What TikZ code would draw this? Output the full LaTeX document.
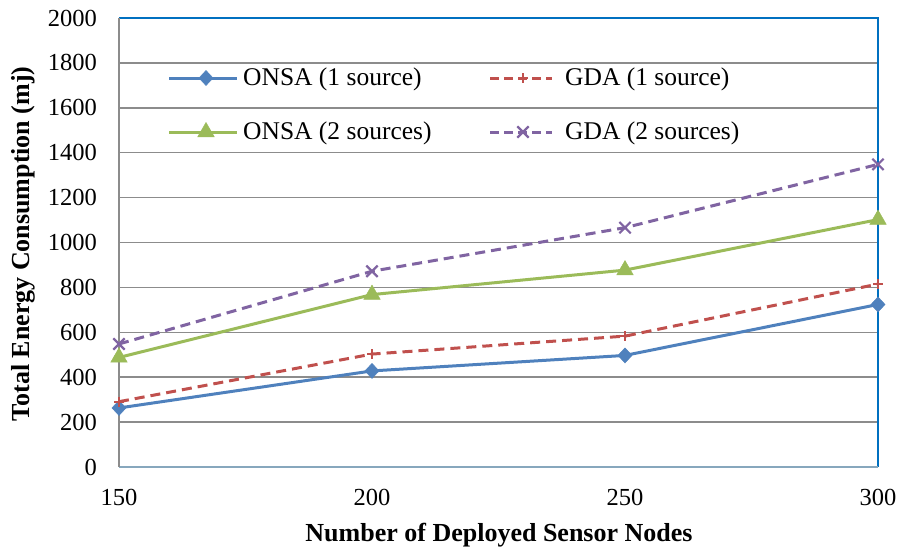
\documentclass[tikz,border=0pt]{standalone}
\usepackage{fontspec}
\setmainfont{Liberation Serif}
\usetikzlibrary{plotmarks}
\definecolor{cblue}{HTML}{4F81BD}
\definecolor{cred}{HTML}{C0504D}
\definecolor{cgreen}{HTML}{9BBB59}
\definecolor{cpurple}{HTML}{8064A2}
\definecolor{frameblue}{HTML}{0070C0}
\definecolor{gridgray}{HTML}{8C8C8C}
\tikzset{
  ticklbl/.style={inner sep=0pt, font=\fontsize{24.5}{28}\selectfont},
  leglbl/.style={inner sep=0pt, anchor=west, font=\fontsize{25.5}{28}\selectfont},
  axlbl/.style={inner sep=0pt, font=\fontsize{26}{30}\selectfont\bfseries},
  gridline/.style={draw=gridgray, line width=1.6pt},
  onsaone/.style={draw=cblue, line width=3pt, mark=diamond*, mark size=7.5pt,
     mark options={fill=cblue, draw=cblue, line width=0.5pt, xscale=1.25, solid}},
  gdaone/.style={draw=cred, line width=3pt, dash pattern=on 10pt off 6pt, mark=+, mark size=5pt,
     mark options={draw=cred, line width=2.2pt, solid}},
  onsatwo/.style={draw=cgreen, line width=3pt, mark=triangle*, mark size=9.5pt,
     mark options={fill=cgreen, draw=cgreen, line width=0.5pt, solid}},
  gdatwo/.style={draw=cpurple, line width=3pt, dash pattern=on 10pt off 6pt, mark=x, mark size=8pt,
     mark options={draw=cpurple, line width=2.2pt, solid}},
}
\begin{document}
\begin{tikzpicture}[x=1pt,y=-1pt]
\useasboundingbox (0,0) rectangle (900,554);
% gridlines
\foreach \v in {200,400,...,1800} {
  \draw[gridline] (119,{467-\v*0.2245}) -- (878,{467-\v*0.2245});
}
% frame
\draw[frameblue, line width=2.8pt] (119,18) -- (878,18) -- (878,467);
\draw[draw=gridgray!60!frameblue!70, line width=2.5pt] (119,467) -- (878,467);
\draw[gridgray, line width=2.5pt] (119,18) -- (119,467);
% y tick labels
\foreach \v in {0,200,...,2000} {
  \node[ticklbl, anchor=east] (yt\v) at (97,{467-\v*0.2245}) {\v};
}
% x tick labels
\foreach \v/\px in {150/119,200/372,250/625,300/878} {
  \node[ticklbl] (xt\v) at (\px,497) {\v};
}
% axis labels
\node[axlbl, rotate=90] (ylab) at (23,244) {Total Energy Consumption (mj)};
\node[axlbl] (xlab) at (499,535) {Number of Deployed Sensor Nodes};
% data
\begin{scope}[shift={(119,467)}, x=5.06pt, y=0.2245pt]
  \draw[onsaone] plot coordinates {(0,263) (50,428) (100,497) (150,724)};
  \draw[gdaone] plot coordinates {(0,291) (50,503) (100,583) (150,815)};
  \draw[onsatwo] plot coordinates {(0,488) (50,768) (100,877) (150,1102)};
  \draw[gdatwo] plot coordinates {(0,548) (50,872) (100,1066) (150,1348)};
\end{scope}
% legend
\draw[onsaone, mark indices={2}] plot coordinates {(169,78) (206,78) (237,78)};
\node[leglbl] (l1) at (243,79) {ONSA (1 source)};
\draw[onsatwo, mark indices={2}] plot coordinates {(169,132) (206,132) (237,132)};
\node[leglbl] (l2) at (243,133) {ONSA (2 sources)};
\draw[gdaone, dash pattern=on 9pt off 5pt] (490,78) -- (552,78);
\draw[gdaone, draw=none] plot coordinates {(523,78)};
\node[leglbl] (l3) at (565,79) {GDA (1 source)};
\draw[gdatwo, dash pattern=on 9pt off 5pt] (490,132) -- (552,132);
\draw[gdatwo, draw=none] plot coordinates {(523,132)};
\node[leglbl] (l4) at (565,133) {GDA (2 sources)};
\end{tikzpicture}
\end{document}
